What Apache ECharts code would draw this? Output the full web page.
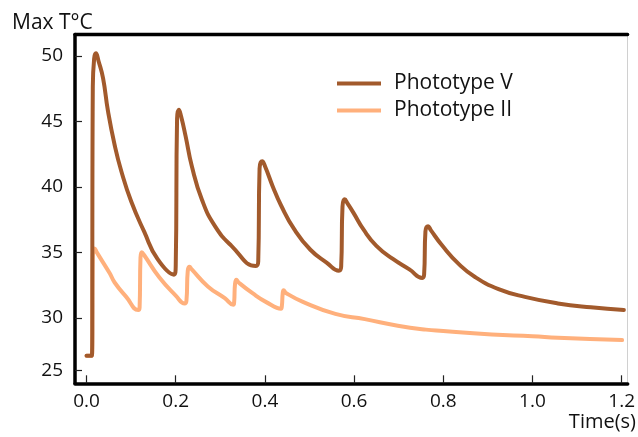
<!DOCTYPE html>
<html>
<head>
<meta charset="utf-8">
<style>
  html, body { margin: 0; padding: 0; background: #fff; }
  #chart { width: 638px; height: 437px; }
</style>
<script src="https://cdn.jsdelivr.net/npm/echarts@6/dist/echarts.min.js"></script>
</head>
<body>
<div id="chart"></div>
<script>
// ---- data ----
const seriesNames = ['Phototype V', 'Phototype II'];

const timeV = [0, 0.012, 0.014, 0.017, 0.021, 0.027, 0.037, 0.048, 0.063, 0.078, 0.100, 0.129, 0.159, 0.196,
  0.200, 0.203, 0.207, 0.212, 0.222, 0.236, 0.259, 0.288, 0.325, 0.380,
  0.385, 0.388, 0.394, 0.400, 0.418, 0.436, 0.466, 0.502, 0.539, 0.566,
  0.571, 0.574, 0.579, 0.586, 0.599, 0.621, 0.650, 0.687, 0.724, 0.753,
  0.757, 0.760, 0.766, 0.772, 0.798, 0.835, 0.872, 0.924, 0.983, 1.057, 1.131, 1.205];
const tempV = [27.1, 27.1, 47.5, 49.8, 50.2, 49.6, 48.3, 45.8, 43.2, 41.2, 38.9, 36.6, 34.5, 33.3,
  34.0, 45.2, 45.9, 45.4, 43.9, 41.6, 39.0, 37.0, 35.5, 33.95,
  34.3, 41.4, 41.95, 41.6, 40.0, 38.6, 36.75, 35.2, 34.2, 33.6,
  33.9, 38.5, 39.05, 38.7, 38.0, 36.75, 35.5, 34.5, 33.7, 33.05,
  33.3, 36.6, 37.0, 36.7, 35.5, 34.1, 33.1, 32.2, 31.6, 31.1, 30.8, 30.6];

const timeII = [0, 0.012, 0.014, 0.018, 0.023, 0.052, 0.063, 0.089, 0.116,
  0.119, 0.121, 0.124, 0.129, 0.163, 0.200, 0.220,
  0.224, 0.227, 0.231, 0.236, 0.272, 0.310, 0.329,
  0.331, 0.333, 0.336, 0.341, 0.373, 0.403, 0.436,
  0.438, 0.440, 0.442, 0.447, 0.484, 0.558, 0.624, 0.698, 0.761, 0.800, 0.909, 1.000, 1.057, 1.201];
const tempII = [27.1, 27.1, 34.8, 35.3, 35.0, 33.4, 32.7, 31.6, 30.6,
  30.8, 34.6, 35.0, 34.8, 33.1, 31.7, 31.1,
  31.3, 33.6, 33.9, 33.7, 32.4, 31.5, 31.0,
  31.2, 32.6, 32.9, 32.7, 31.86, 31.2, 30.7,
  30.9, 31.9, 32.1, 31.9, 31.24, 30.3, 29.9, 29.4, 29.1, 29.0, 28.73, 28.6, 28.48, 28.3];

const xTicks = [0, 0.2, 0.4, 0.6, 0.8, 1.0, 1.2];
const yTicks = [26, 30, 35, 40, 45, 50];
const yTickLabels = ['25', '30', '35', '40', '45', '50'];

const titleText = 'Max T°C';
const xAxisTitle = 'Time(s)';

// ---- chart ----
const FONT = 'Open Sans';
const pairs = (xs, ys) => xs.map((x, i) => [x, ys[i]]);

const chart = echarts.init(document.getElementById('chart'), null, { renderer: 'canvas' });

const xRange = { min: -0.0259, max: 1.2135 };
const yRange = { min: 25, max: 51.64 };

chart.setOption({
  animation: false,
  backgroundColor: '#ffffff',
  textStyle: { fontFamily: FONT },
  title: {
    text: titleText,
    left: 7, top: 8,
    textStyle: { fontFamily: FONT, fontSize: 21, fontWeight: 'normal', color: '#111' }
  },
  grid: { left: 75, right: 4, top: 34.5, bottom: 53.7, containLabel: false },
  legend: {
    data: seriesNames,
    orient: 'vertical',
    left: 332, top: 68,
    icon: 'rect',
    itemWidth: 44, itemHeight: 4,
    itemGap: 6,
    textStyle: { fontFamily: FONT, fontSize: 21, color: '#111', padding: [0, 0, 0, 8] }
  },
  graphic: [{
    type: 'text',
    right: 2, top: 412,
    style: { text: xAxisTitle, font: '20px "Open Sans"', fill: '#111' }
  }],
  xAxis: [{
    type: 'value',
    min: xRange.min, max: xRange.max,
    axisLine: { onZero: false, lineStyle: { color: '#000', width: 3.5 } },
    axisTick: { show: true, inside: true, length: 8, customValues: xTicks, lineStyle: { color: '#222', width: 1.2 } },
    axisLabel: { customValues: xTicks, formatter: v => v.toFixed(1), fontFamily: FONT, fontSize: 19, color: '#111', margin: 9 },
    splitLine: { show: false }
  }, {
    type: 'value', position: 'top',
    min: xRange.min, max: xRange.max,
    axisLine: { onZero: false, lineStyle: { color: '#000', width: 3.3 } },
    axisTick: { show: false }, axisLabel: { show: false }, splitLine: { show: false }
  }],
  yAxis: [{
    type: 'value',
    min: yRange.min, max: yRange.max,
    axisLine: { show: true, onZero: false, lineStyle: { color: '#000', width: 3.5 } },
    axisTick: { show: true, inside: true, length: 7, customValues: yTicks, lineStyle: { color: '#222', width: 1.2 } },
    axisLabel: {
      customValues: yTicks,
      formatter: v => yTickLabels[yTicks.indexOf(Math.round(v))] ?? '',
      fontFamily: FONT, fontSize: 19, color: '#111', margin: 12
    },
    splitLine: { show: false }
  }, {
    type: 'value', position: 'right',
    min: yRange.min, max: yRange.max,
    axisLine: { show: true, onZero: false, lineStyle: { color: '#d0d0d0', width: 1 } },
    axisTick: { show: false }, axisLabel: { show: false }, splitLine: { show: false }
  }],
  series: [{
    name: 'Phototype II',
    type: 'line',
    data: pairs(timeII, tempII),
    showSymbol: false, symbol: 'none',
    smooth: 0.5,
    color: '#FFB07C',
    lineStyle: { color: '#FFB07C', width: 4, join: 'round', cap: 'round' }
  }, {
    name: 'Phototype V',
    type: 'line',
    data: pairs(timeV, tempV),
    showSymbol: false, symbol: 'none',
    smooth: 0.5,
    color: '#A25A2C',
    lineStyle: { color: '#A25A2C', width: 4, join: 'round', cap: 'round' }
  }]
});
</script>
</body>
</html>
